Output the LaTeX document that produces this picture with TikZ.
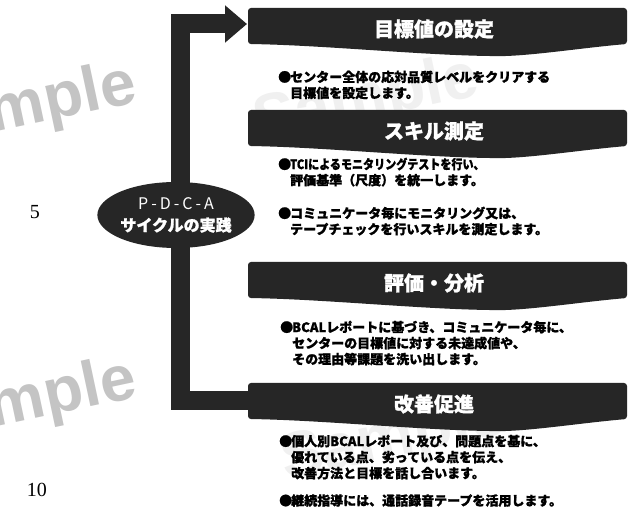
\documentclass[tikz,border=0pt]{standalone}
\usepackage{graphicx}
\usepackage{fontspec}
\newfontfamily\jp{Noto Sans CJK JP}[BoldFeatures={FakeBold=1.2}]
\newfontfamily\wm{Liberation Sans}
\newfontfamily\numfont{Liberation Serif}
\usetikzlibrary{shapes.geometric,arrows.meta}
\definecolor{ink}{HTML}{262626}
\definecolor{wmgray}{HTML}{C4C4C4}
\definecolor{wmfaint}{HTML}{F0F0F0}
\newcommand\bul{\makebox[12pt][l]{●}}
\newcommand\ind{\hspace*{12pt}}
\newcommand\drawbanner[3]{%
  \fill[bannershape] (248,#2) -- (627,#2) -- (627,#2+36)
    .. controls (580,#2+40) and (525,#2+49) .. (490,#2+48)
    .. controls (420,#2+47) and (320,#2+37) .. (248,#2+36) -- cycle;
  \node[bannertitle] (#1) at (434,#2+21) {#3};}
\begin{document}
\begin{tikzpicture}[x=1pt,y=-1pt,
  bodytext/.style={anchor=north west, inner sep=0pt, align=left,
    font=\jp\bfseries\fontsize{13}{16}\selectfont, text=black},
  bannertitle/.style={inner sep=0pt, text=white,
    font=\jp\bfseries\fontsize{20}{22}\selectfont},
  bannershape/.style={fill=ink, rounded corners=3pt},
  cyclearrow/.style={draw=ink, line width=19pt, line join=miter,
    -{Triangle[width=36pt,length=22pt]}},
  watermark/.style={font=\wm\bfseries\fontsize{64}{64}\selectfont,
    text=wmgray, anchor=base west, rotate=12, inner sep=0pt},
  linenum/.style={font=\numfont\fontsize{20}{20}\selectfont, inner sep=0pt}
]
\useasboundingbox (0,0) rectangle (630,526);
\fill[white] (0,0) rectangle (630,526);
\begin{scope}
\clip (0,0) rectangle (630,526);
\node[watermark] (wm1) at (-84,149) {Sample};
\node[watermark] (wm2) at (-84,444) {Sample};
\node[watermark, text=wmfaint] (wm3) at (258,142) {Sample};
\node[watermark, text=wmfaint] (wm4) at (285,480) {Sample};
\end{scope}

\node[linenum] (n5) at (35,212) {5};
\node[linenum] (n10) at (37,490) {10};

% cycle arrow
\coordinate (pdcac) at (180,215);
\coordinate (a4) at (258,401);
\coordinate (a1) at (247,24);
\draw[cyclearrow] (a4) -| (pdcac) |- (a1);

\node[ellipse, fill=ink, minimum width=150pt, minimum height=66pt,
  inner sep=0pt, text=white, align=center,
  font=\jp\fontsize{16}{22}\selectfont] (pdca) at (176,215)
  {P\kern3pt-\kern3pt D\kern3pt-\kern3pt C\kern3pt-\kern3pt A\\ \bfseries サイクルの実践};

% banners
\drawbanner{b1}{8}{目標値の設定}
\drawbanner{b2}{110}{スキル測定}
\drawbanner{b3}{262}{評価・分析}
\drawbanner{b4}{383}{改善促進}

% body texts
\node[bodytext] (t1) at (278,70.5) {\bul センター全体の応対品質レベルをクリアする\\ \ind 目標値を設定します。};
\node[bodytext] (t2a) at (278,157.5) {\bul \scalebox{0.85}[1]{TCIによるモニタリングテストを行い、}\\ \ind 評価基準（尺度）を統一します。};
\node[bodytext] (t2b) at (278,206.5) {\bul コミュニケータ毎にモニタリング又は、\\ \ind テープチェックを行いスキルを測定します。};
\node[bodytext] (t3) at (280,320.5) {\bul BCALレポートに基づき、コミュニケータ毎に、\\ \ind センターの目標値に対する未達成値や、\\ \ind その理由等課題を洗い出します。};
\node[bodytext] (t4a) at (279,434.5) {\bul 個人別BCALレポート及び、問題点を基に、\\ \ind 優れている点、劣っている点を伝え、\\ \ind 改善方法と目標を話し合います。};
\node[bodytext] (t4b) at (279,494) {\bul 継続指導には、通話録音テープを活用します。};
\end{tikzpicture}
\end{document}
